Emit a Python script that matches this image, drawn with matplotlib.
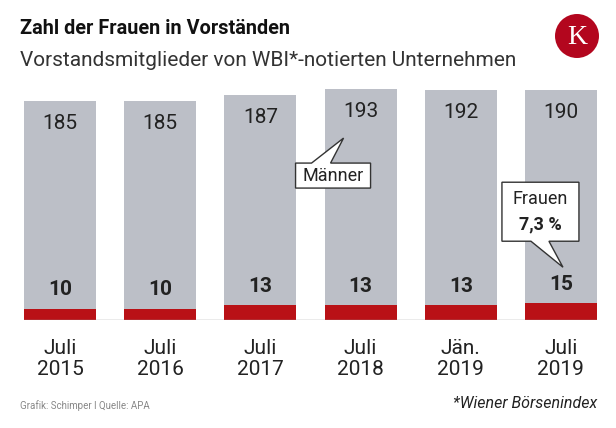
"""Zahl der Frauen in Vorständen - stacked bar chart."""

import matplotlib.pyplot as plt
from matplotlib.patches import Polygon, Circle
from matplotlib.transforms import Affine2D, ScaledTranslation

plt.rcParams["font.family"] = ["Roboto", "DejaVu Sans"]

# data
periods = ["Juli\n2015", "Juli\n2016", "Juli\n2017", "Juli\n2018", "Jän.\n2019", "Juli\n2019"]
frauen = [10, 10, 13, 13, 13, 15]
maenner = [185, 185, 187, 193, 192, 190]

GRAY = "#bcbfc7"
RED = "#b91116"
TEXT = "#222222"

fig = plt.figure(figsize=(6.16, 4.28), dpi=100)
ax = fig.add_axes([24 / 616, 108 / 428, 573 / 616, 240 / 428])

x = range(len(periods))
totals = [f + m for f, m in zip(frauen, maenner)]
ax.bar(x, totals, width=0.72, color=GRAY, zorder=1)
ax.bar(x, frauen, width=0.72, color=RED, zorder=2)

for i, (f, t, m) in enumerate(zip(frauen, totals, maenner)):
    ax.text(i, t - 20, str(m), ha="center", va="center", fontsize=15, color=TEXT)
    ax.text(i, f + 17, str(f), ha="center", va="center", fontsize=15,
            fontweight="bold", color=TEXT)

ax.set_xlim(-0.36, len(periods) - 0.64)
ax.set_ylim(0, 240 / 1.123)
ax.axhline(0, color="#9a9a9a", lw=1, zorder=3)
ax.set_xticks(list(x))
ax.set_xticklabels(periods, fontsize=15, color=TEXT, linespacing=1.12)
ax.tick_params(axis="x", length=0, pad=14)
ax.set_yticks([])
for side in ax.spines.values():
    side.set_visible(False)


def callout(tip, box, base, lines):
    """Speech bubble; box/base given in pixels relative to the tip (data coords)."""
    trans = Affine2D() + ScaledTranslation(tip[0], tip[1], ax.transData)
    x0, y0, x1, y1 = box
    b0, b1 = base
    if y0 > 0:  # box above tip, tail on bottom edge
        verts = [(x0, y0), (b0, y0), (0, 0), (b1, y0), (x1, y0), (x1, y1), (x0, y1)]
    else:  # box below tip, tail on top edge
        verts = [(x0, y1), (b0, y1), (0, 0), (b1, y1), (x1, y1), (x1, y0), (x0, y0)]
    ax.add_patch(Polygon(verts, closed=True, transform=trans, facecolor="white",
                         edgecolor="#333333", lw=1, zorder=5, clip_on=False))
    cx = (x0 + x1) / 2
    cy = (y0 + y1) / 2
    step = 26
    start = cy + step * (len(lines) - 1) / 2
    for k, (txt, weight) in enumerate(lines):
        ax.text(cx, start - k * step, txt, transform=trans, ha="center", va="center",
                fontsize=13, fontweight=weight, color=TEXT, zorder=6)


callout((2.83, 162), (-48, -50, 27, -25), (-32, -13), [("Männer", "normal")])
callout((5.02, 47), (-61, 26, 16, 85), (-32, -14),
        [("Frauen", "normal"), ("7,3 %", "bold")])

# header
fig.text(20 / 616, 1 - 29 / 428, "Zahl der Frauen in Vorständen", fontsize=14.3,
         fontweight="bold", color="#111111", va="center")
fig.text(20 / 616, 1 - 60 / 428, "Vorstandsmitglieder von WBI*-notierten Unternehmen",
         fontsize=15, color="#333333", va="center")

# logo
logo = Circle((577, 428 - 36), 22, transform=None, facecolor="#b3061e", edgecolor="none")
fig.patches.append(logo)
fig.text(577 / 616, 1 - 37 / 428, "K", fontsize=20, color="white", ha="center",
         va="center", family=["Liberation Serif", "DejaVu Serif"])

# footer
fig.text(20 / 616, 1 - 406 / 428, "Grafik: Schimper I Quelle: APA", fontsize=7,
         color="#888888", va="center")
fig.text(597 / 616, 1 - 404 / 428, "*Wiener Börsenindex", fontsize=11.5,
         style="italic", color="#222222", va="center", ha="right")

fig.savefig("out.png", dpi=100)
